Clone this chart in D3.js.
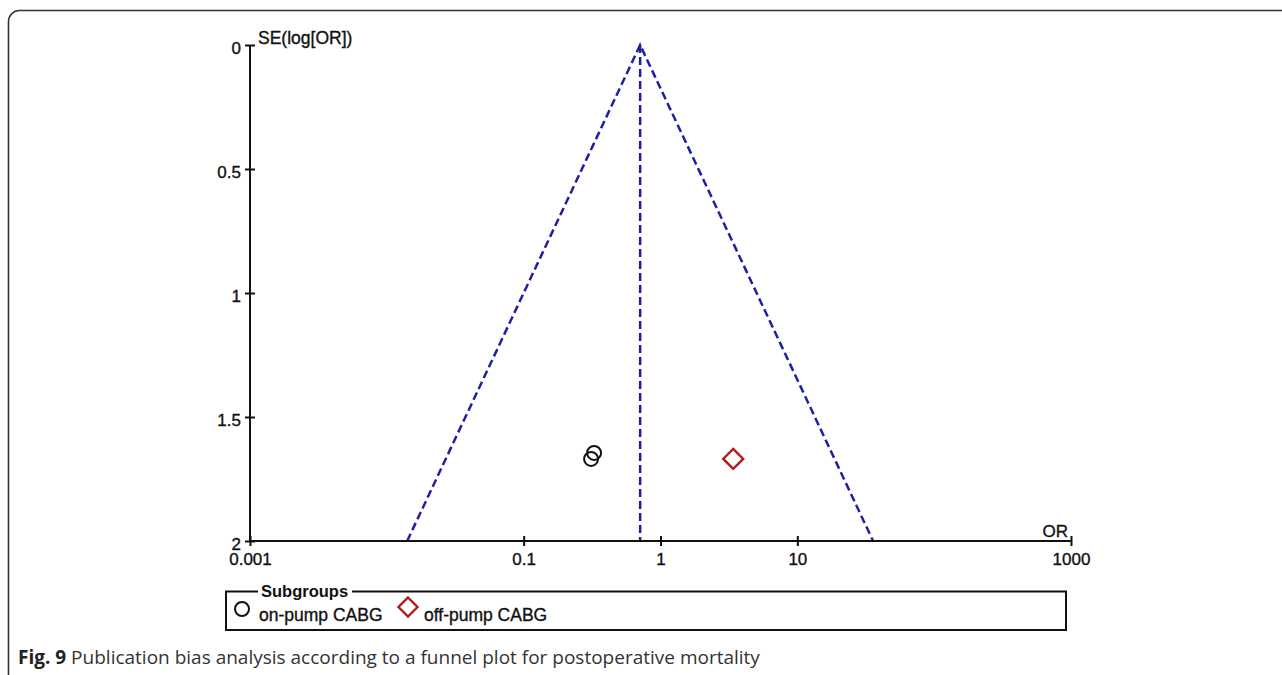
<!DOCTYPE html>
<html>
<head>
<meta charset="utf-8">
<script src="https://cdn.jsdelivr.net/npm/d3@7"></script>
<style>
  html, body { margin: 0; padding: 0; background: #fff; }
  svg { display: block; }
</style>
</head>
<body>
<svg id="chart" width="1282" height="675"></svg>
<script>
// ---- data ----
const xTickValues = [0.001, 0.1, 1, 10, 1000];
const xTickLabels = ["0.001", "0.1", "1", "10", "1000"];
const yTickValues = [0, 0.5, 1, 1.5, 2];
const yTickLabels = ["0", "0.5", "1", "1.5", "2"];
const pooledOR = 0.71;
const onPumpOR = [0.311, 0.327];
const onPumpSE = [1.669, 1.645];
const offPumpOR = [3.40];
const offPumpSE = [1.669];
const seMax = 2;
const legendLabels = ["on-pump CABG", "off-pump CABG"];

const svg = d3.select("#chart");

// frame
svg.append("rect")
  .attr("x", 8.5).attr("y", 10.5)
  .attr("width", 1300).attr("height", 700)
  .attr("rx", 11).attr("ry", 11)
  .attr("fill", "none").attr("stroke", "#333").attr("stroke-width", 1.6);

const x = d3.scaleLog().domain([0.001, 1000]).range([250, 1071]);
const y = d3.scaleLinear().domain([0, 2]).range([45, 541]);

const axisColor = "#111";
const fontFam = "'Liberation Sans', Arial, sans-serif";
const heavy = sel => sel.attr("stroke", "#111").attr("stroke-width", 0.35);

// funnel
const z = 1.96;
const funnelColor = "#1f1fa3";
const lnP = Math.log(pooledOR);
const funnelPts = [
  [Math.exp(lnP - z * seMax), seMax],
  [pooledOR, 0],
  [Math.exp(lnP + z * seMax), seMax]
];
const line = d3.line().x(d => x(d[0])).y(d => y(d[1]));
svg.append("path")
  .attr("d", line(funnelPts))
  .attr("fill", "none").attr("stroke", funnelColor)
  .attr("stroke-width", 2.5).attr("stroke-dasharray", "8,4");
svg.append("path")
  .attr("d", line([[pooledOR, 0], [pooledOR, seMax]]))
  .attr("fill", "none").attr("stroke", funnelColor)
  .attr("stroke-width", 2.5).attr("stroke-dasharray", "8,4");

// axes
const yAxis = d3.axisLeft(y).tickValues(yTickValues)
  .tickFormat((d, i) => yTickLabels[i]).tickSize(5).tickPadding(5);
const gy = svg.append("g").attr("transform", "translate(250,0)").call(yAxis);
gy.select(".domain").attr("stroke", axisColor).attr("stroke-width", 2).attr("d", `M0,${y(0)}V${y(2)}`);
gy.selectAll(".tick line").attr("x1", -5).attr("x2", 5).attr("stroke", axisColor).attr("stroke-width", 2);
gy.selectAll(".tick text").attr("font-family", fontFam).attr("font-size", 17)
  .attr("fill", "#111").attr("dy", "0.5em").attr("x", -9).call(heavy);

const xAxis = d3.axisBottom(x).tickValues(xTickValues)
  .tickFormat((d, i) => xTickLabels[i]).tickSize(5).tickPadding(7);
const gx = svg.append("g").attr("transform", `translate(0,${y(2)})`).call(xAxis);
gx.select(".domain").attr("stroke", axisColor).attr("stroke-width", 2).attr("d", `M${x(0.001)},0H${x(1000)}`);
gx.selectAll(".tick line").attr("y1", -5).attr("y2", 5).attr("stroke", axisColor).attr("stroke-width", 2);
gx.selectAll(".tick text").attr("font-family", fontFam).attr("font-size", 17).attr("fill", "#111").call(heavy);

// axis titles
svg.append("text").attr("x", 258).attr("y", 44)
  .attr("font-family", fontFam).attr("font-size", 17.5).attr("fill", "#111")
  .text("SE(log[OR])").call(heavy);
svg.append("text").attr("x", 1068).attr("y", 537).attr("text-anchor", "end")
  .attr("font-family", fontFam).attr("font-size", 17).attr("fill", "#111")
  .text("OR").call(heavy);

// points
const circles = onPumpOR.map((o, i) => ({ or: o, se: onPumpSE[i] }));
svg.selectAll("circle.pt").data(circles).enter().append("circle")
  .attr("class", "pt")
  .attr("cx", d => x(d.or)).attr("cy", d => y(d.se)).attr("r", 7)
  .attr("fill", "none").attr("stroke", "#111").attr("stroke-width", 2);

const diamondColor = "#b11c1c";
const diamonds = offPumpOR.map((o, i) => ({ or: o, se: offPumpSE[i] }));
const diamondPath = (cx, cy, r) => `M${cx},${cy - r}L${cx + r},${cy}L${cx},${cy + r}L${cx - r},${cy}Z`;
svg.selectAll("path.dm").data(diamonds).enter().append("path")
  .attr("class", "dm")
  .attr("d", d => diamondPath(x(d.or), y(d.se), 10))
  .attr("fill", "none").attr("stroke", diamondColor).attr("stroke-width", 2.4);

// legend
const lg = svg.append("g");
lg.append("path")
  .attr("d", "M258,591.5 H226 V630 H1066 V591.5 H352")
  .attr("fill", "none").attr("stroke", "#111").attr("stroke-width", 2);
lg.append("text").attr("x", 261).attr("y", 597)
  .attr("font-family", fontFam).attr("font-size", 16.5).attr("font-weight", "bold").attr("fill", "#111")
  .text("Subgroups");
lg.append("circle").attr("cx", 242).attr("cy", 609).attr("r", 7)
  .attr("fill", "none").attr("stroke", "#111").attr("stroke-width", 2);
lg.append("text").attr("x", 259).attr("y", 621)
  .attr("font-family", fontFam).attr("font-size", 17.5).attr("fill", "#111")
  .text(legendLabels[0]).call(heavy);
lg.append("path").attr("d", diamondPath(408, 607, 9.5))
  .attr("fill", "none").attr("stroke", diamondColor).attr("stroke-width", 2.4);
lg.append("text").attr("x", 424).attr("y", 621)
  .attr("font-family", fontFam).attr("font-size", 17.5).attr("fill", "#111")
  .text(legendLabels[1]).call(heavy);

// caption
const cap = svg.append("text").attr("x", 18).attr("y", 664)
  .attr("font-family", "'Open Sans', 'Noto Sans', sans-serif").attr("font-size", 19).attr("fill", "#333");
cap.append("tspan").attr("font-weight", "bold").attr("fill", "#222").text("Fig. 9");
cap.append("tspan").text(" Publication bias analysis according to a funnel plot for postoperative mortality");
</script>
</body>
</html>
